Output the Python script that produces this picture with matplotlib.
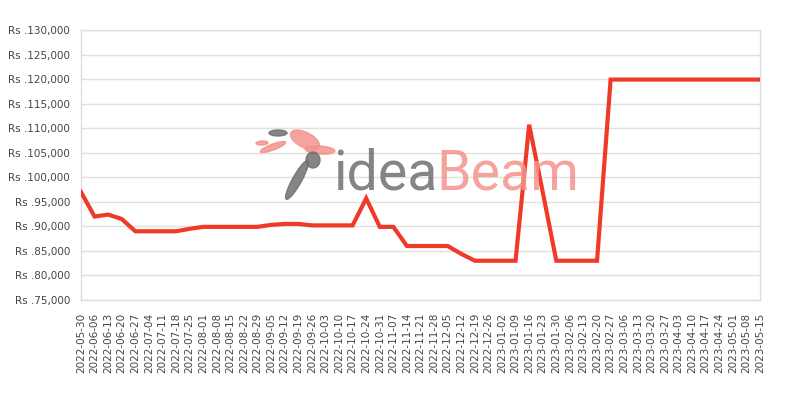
import matplotlib
matplotlib.use("Agg")
import matplotlib.pyplot as plt
from matplotlib.patches import Ellipse
import pandas as pd

dates = pd.date_range("2022-05-30", "2023-05-15", freq="7D")
prices = [97000, 92000, 92400, 91500, 89000, 89000, 89000, 89000, 89500, 89900,
          89900, 89900, 89900, 89900, 90300, 90500, 90500, 90200, 90200, 90200,
          90200, 95700, 89900, 89900, 86000, 86000, 86000, 86000, 84400, 83000,
          83000, 83000, 83000, 110700, 97000, 83000, 83000, 83000, 83000, 119900,
          119900, 119900, 119900, 119900, 119900, 119900, 119900, 119900, 119900,
          119900, 119900]
y_ticks = list(range(75000, 130001, 5000))
y_labels = ["Rs .{:,}".format(v) for v in y_ticks]
x_labels = [d.strftime("%Y-%m-%d") for d in dates]

fig = plt.figure(figsize=(8, 4), dpi=100)
ax = fig.add_axes([81/800, 100/400, (760-81)/800, 270/400])

ax.plot(dates, prices, color="#EF3A28", linewidth=3, solid_joinstyle="miter", zorder=3)

ax.set_xlim(dates[0], dates[-1])
ax.set_ylim(75000, 130000)
ax.set_yticks(y_ticks)
ax.set_yticklabels(y_labels)
ax.set_xticks(dates)
ax.set_xticklabels(x_labels, rotation=90)
ax.tick_params(axis="both", length=0, labelsize=7.5, colors="#444444")
ax.tick_params(axis="y", pad=8)
ax.tick_params(axis="x", pad=9)
ax.grid(axis="y", color="#e0e0e0", linewidth=1)
ax.grid(axis="x", visible=False)
for s in ax.spines.values():
    s.set_color("#dddddd")
    s.set_linewidth(1)

# watermark
fig.text(333/800, 1 - 190/400, "idea", fontsize=40, color="#707070", alpha=0.85,
         family="Roboto", ha="left", va="baseline", zorder=1)
fig.text(436/800, 1 - 190/400, "Beam", fontsize=40, color="#f4938b", alpha=0.85,
         family="Roboto", ha="left", va="baseline", zorder=1)
# simple logo shapes
logo = [
    ((305/800, 1 - 140/400), 22/800, 22/400, 30, "#f4938b"),
    ((320/800, 1 - 150/400), 30/800, 8/400, -10, "#f4938b"),
    ((297/800, 1 - 180/400), 10/800, 40/400, -15, "#707070"),
    ((313/800, 1 - 160/400), 14/800, 16/400, 0, "#707070"),
    ((278/800, 1 - 133/400), 18/800, 6/400, 0, "#707070"),
    ((273/800, 1 - 147/400), 10/800, 16/400, -50, "#f4938b"),
    ((262/800, 1 - 143/400), 12/800, 4/400, 10, "#f4938b"),
]
for c, w, h, a, col in logo:
    fig.patches.append(Ellipse(c, w, h, angle=a, color=col, alpha=0.85,
                               transform=fig.transFigure, zorder=1))

fig.savefig("out.png", dpi=100)
